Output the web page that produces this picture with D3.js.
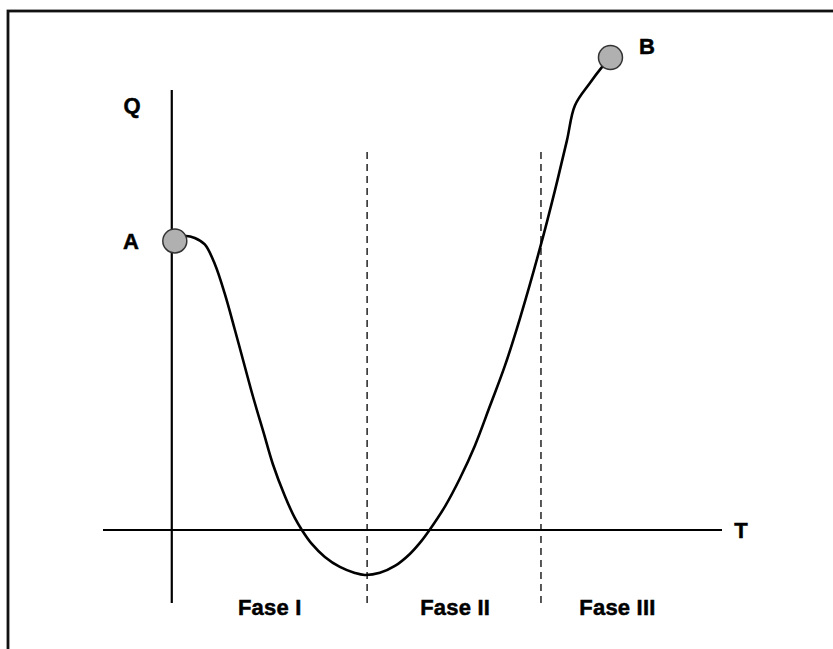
<!DOCTYPE html>
<html>
<head>
<meta charset="utf-8">
<script src="https://cdn.jsdelivr.net/npm/d3@7"></script>
<style>
  body { margin: 0; background: #fff; }
  text { font-family: "Liberation Sans", Arial, sans-serif; font-weight: bold; fill: #000; stroke: #000; stroke-width: 0.5px; }
</style>
</head>
<body>
<div class="canvas"></div>
<script>
// curve points (T, Q)
const curveT = [0.073, 0.255, 0.418, 0.6, 0.782, 0.964, 1.145, 1.327, 1.473, 1.673, 1.836, 2.055, 2.236, 2.364, 2.545, 2.782, 3.055, 3.327, 3.509,
    3.782, 4.055, 4.327, 4.509, 4.691, 4.964, 5.236, 5.509, 5.782, 6.055, 6.327, 6.709, 6.964, 7.182, 7.327, 7.6, 7.818, 7.964]
const curveQ = [6.614, 6.682, 6.636, 6.489, 6.045, 5.364, 4.557, 3.716, 3.045, 2.193, 1.5, 0.773, 0.273, 0, -0.318, -0.614, -0.841, -0.977, -1.023,
    -0.973, -0.818, -0.545, -0.295, 0.011, 0.532, 1.17, 1.916, 2.816, 3.734, 4.805, 6.484, 7.72, 8.855, 9.65, 10.16, 10.52, 10.727]

// the two marked points
const pointNames = ['A', 'B']
const pointT = [0.055, 7.973]
const pointQ = [6.57, 10.74]

// phase boundaries and labels
const phaseBounds = [3.55, 6.71]
const phaseNames = ['Fase I', 'Fase II', 'Fase III']
const phaseCenters = [1.78, 5.15, 8.1]

const width = 833
const height = 649

const svg = d3.select('.canvas').append('svg')
    .attr('width', width)
    .attr('height', height)

// frame round the figure (only left and top edges fall inside)
svg.append('rect')
    .attr('x', 8)
    .attr('y', 11)
    .attr('width', 900)
    .attr('height', 700)
    .attr('fill', 'none')
    .attr('stroke', '#111')
    .attr('stroke-width', 2.8)

const x = d3.scaleLinear().domain([-1.25, 10]).range([103, 722])
const y = d3.scaleLinear().domain([-1.66, 10]).range([603, 90])

// axes
svg.append('line')
    .attr('x1', x(-1.25)).attr('x2', x(10))
    .attr('y1', y(0)).attr('y2', y(0))
    .attr('stroke', '#000').attr('stroke-width', 2)

svg.append('line')
    .attr('x1', x(0)).attr('x2', x(0))
    .attr('y1', y(-1.66)).attr('y2', y(10))
    .attr('stroke', '#000').attr('stroke-width', 2.2)

// dashed phase boundaries
svg.selectAll('.bound')
    .data(phaseBounds)
    .enter().append('line')
    .attr('class', 'bound')
    .attr('x1', d => x(d)).attr('x2', d => x(d))
    .attr('y1', y(8.59)).attr('y2', y(-1.66))
    .attr('stroke', '#000')
    .attr('stroke-width', 1.3)
    .attr('stroke-dasharray', '7,5')

// the curve
const pts = curveT.map((t, i) => [t, curveQ[i]])
const line = d3.line()
    .x(d => x(d[0]))
    .y(d => y(d[1]))
    .curve(d3.curveCatmullRom.alpha(0.5))

svg.append('path')
    .datum(pts)
    .attr('d', line)
    .attr('fill', 'none')
    .attr('stroke', '#000')
    .attr('stroke-width', 2.6)

// points A and B
svg.selectAll('.pt')
    .data(pointNames)
    .enter().append('circle')
    .attr('class', 'pt')
    .attr('cx', (d, i) => x(pointT[i]))
    .attr('cy', (d, i) => y(pointQ[i]))
    .attr('r', 12)
    .attr('fill', '#b0b0b0')
    .attr('stroke', '#333')
    .attr('stroke-width', 1.5)

// labels
svg.append('text').attr('x', 132).attr('y', 113).attr('text-anchor', 'middle')
    .style('font-size', '22px').text('Q')
svg.append('text').attr('x', 131).attr('y', 249).attr('text-anchor', 'middle')
    .style('font-size', '22px').text('A')
svg.append('text').attr('x', 647).attr('y', 54).attr('text-anchor', 'middle')
    .style('font-size', '22px').text('B')
svg.append('text').attr('x', 741).attr('y', 538).attr('text-anchor', 'middle')
    .style('font-size', '22px').text('T')

svg.selectAll('.phase')
    .data(phaseNames)
    .enter().append('text')
    .attr('class', 'phase')
    .attr('x', (d, i) => x(phaseCenters[i]))
    .attr('y', 615)
    .attr('text-anchor', 'middle')
    .style('font-size', '22px')
    .style('letter-spacing', '0.2px')
    .text(d => d)
</script>
</body>
</html>
